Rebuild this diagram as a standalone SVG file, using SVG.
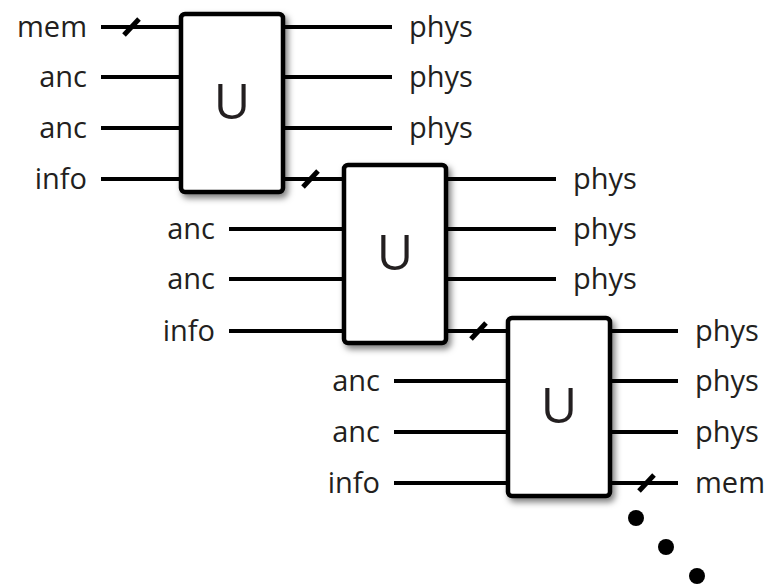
<svg xmlns="http://www.w3.org/2000/svg" width="766" height="586" viewBox="0 0 766 586">
<defs>
<filter id="sh" x="-20%" y="-20%" width="150%" height="150%">
<feDropShadow dx="3" dy="4" stdDeviation="3" flood-color="#000" flood-opacity="0.5"/>
</filter>
</defs>
<style>
.w{stroke:#000;stroke-width:4;fill:none}
.sl{stroke:#000;stroke-width:5;stroke-linecap:butt}
.box{fill:#fff;stroke:#000;stroke-width:4.5}
.lbl{font-family:"Open Sans","Liberation Sans",sans-serif;font-size:29px;fill:#231f20}
.r{text-anchor:end}
.u{font-family:"Open Sans","Liberation Sans",sans-serif;font-size:50px;fill:#231f20;text-anchor:middle}
</style>
<rect width="766" height="586" fill="#fff"/>
<g id="connectors">
<line class="w" x1="101" y1="27" x2="181" y2="27"/>
<line class="w" x1="101" y1="77" x2="181" y2="77"/>
<line class="w" x1="101" y1="128" x2="181" y2="128"/>
<line class="w" x1="101" y1="179" x2="181" y2="179"/>
<line class="w" x1="283" y1="27" x2="392" y2="27"/>
<line class="w" x1="283" y1="77" x2="392" y2="77"/>
<line class="w" x1="283" y1="128" x2="392" y2="128"/>
<line class="w" x1="283" y1="179" x2="344" y2="179"/>
<line class="w" x1="229" y1="229" x2="344" y2="229"/>
<line class="w" x1="229" y1="279" x2="344" y2="279"/>
<line class="w" x1="229" y1="331" x2="344" y2="331"/>
<line class="w" x1="446" y1="179" x2="556" y2="179"/>
<line class="w" x1="446" y1="229" x2="556" y2="229"/>
<line class="w" x1="446" y1="279" x2="556" y2="279"/>
<line class="w" x1="446" y1="331" x2="508" y2="331"/>
<line class="w" x1="394" y1="381" x2="508" y2="381"/>
<line class="w" x1="394" y1="432" x2="508" y2="432"/>
<line class="w" x1="394" y1="483" x2="508" y2="483"/>
<line class="w" x1="610" y1="331" x2="678" y2="331"/>
<line class="w" x1="610" y1="381" x2="678" y2="381"/>
<line class="w" x1="610" y1="432" x2="678" y2="432"/>
<line class="w" x1="610" y1="483" x2="678" y2="483"/>
<line class="sl" x1="124" y1="35" x2="139" y2="19"/>
<line class="sl" x1="303" y1="187" x2="318" y2="171"/>
<line class="sl" x1="471" y1="339" x2="486" y2="323"/>
<line class="sl" x1="639" y1="491" x2="654" y2="475"/>
</g>
<g id="gate1">
<rect class="box" x="181" y="14" width="102" height="178" rx="4" filter="url(#sh)"/>
<text class="u" x="232" y="119">U</text>
</g>
<g id="gate2">
<rect class="box" x="344" y="165" width="102" height="178" rx="4" filter="url(#sh)"/>
<text class="u" x="395" y="270">U</text>
</g>
<g id="gate3">
<rect class="box" x="508" y="318" width="102" height="178" rx="4" filter="url(#sh)"/>
<text class="u" x="559" y="423">U</text>
</g>
<g id="labels">
<text class="lbl r" x="87" y="37">mem</text>
<text class="lbl r" x="87" y="87">anc</text>
<text class="lbl r" x="87" y="138">anc</text>
<text class="lbl r" x="87" y="189">info</text>
<text class="lbl" x="409" y="37">phys</text>
<text class="lbl" x="409" y="87">phys</text>
<text class="lbl" x="409" y="138">phys</text>
<text class="lbl r" x="215" y="239">anc</text>
<text class="lbl r" x="215" y="289">anc</text>
<text class="lbl r" x="215" y="341">info</text>
<text class="lbl" x="573" y="189">phys</text>
<text class="lbl" x="573" y="239">phys</text>
<text class="lbl" x="573" y="289">phys</text>
<text class="lbl r" x="380" y="391">anc</text>
<text class="lbl r" x="380" y="442">anc</text>
<text class="lbl r" x="380" y="493">info</text>
<text class="lbl" x="695" y="341">phys</text>
<text class="lbl" x="695" y="391">phys</text>
<text class="lbl" x="695" y="442">phys</text>
<text class="lbl" x="695" y="493">mem</text>
</g>
<g id="ellipsis">
<circle cx="636" cy="518" r="8"/>
<circle cx="666" cy="547" r="8"/>
<circle cx="697" cy="576" r="8"/>
</g>
</svg>
